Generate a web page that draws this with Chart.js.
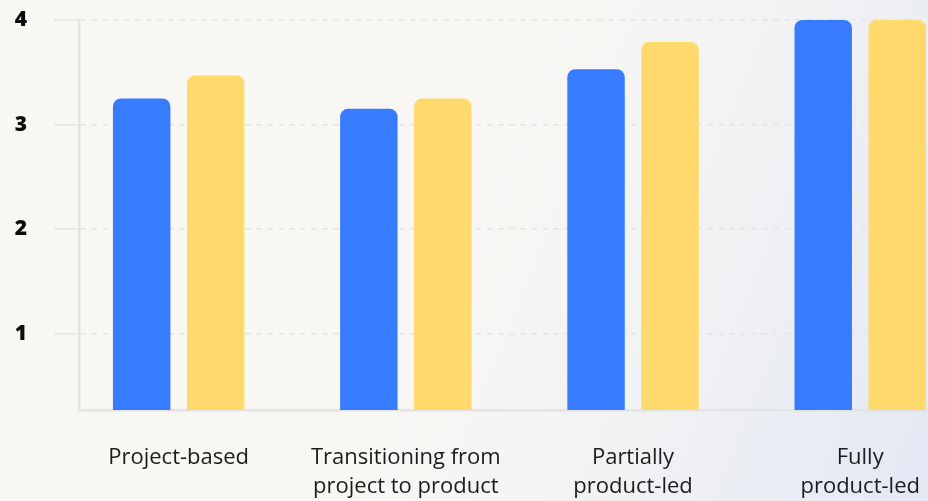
<!DOCTYPE html>
<html>
<head>
<meta charset="utf-8">
<script src="https://cdn.jsdelivr.net/npm/chart.js@4/dist/chart.umd.min.js"></script>
<style>
  html, body { margin: 0; padding: 0; overflow: hidden; }
  body {
    width: 928px; height: 501px;
    background: linear-gradient(112deg, #f8f7f4 0%, #f8f7f4 50%, #f0f1f3 74%, #e2e8f5 100%);
  }
  #wrap { position: relative; width: 928px; height: 501px; }
</style>
</head>
<body>
<div id="wrap"><canvas id="chart"></canvas></div>
<script>
const categories = [
  ['Project-based'],
  ['Transitioning from', 'project to product'],
  ['Partially', 'product-led'],
  ['Fully', 'product-led']
]
const blueValues = [3.25, 3.15, 3.53, 4.0]
const yellowValues = [3.47, 3.25, 3.79, 4.0]
const yTicks = [1, 2, 3, 4]

const font = "'Open Sans', 'Noto Sans', sans-serif"
const lineGray = '#e3e3e3'

// bars sit on a linear x axis at 0..3, one group per category
const toPoints = vals => vals.map((v, i) => ({x: i, y: v}))

const barStyle = {
  borderRadius: 8,
  borderSkipped: 'start',
  categoryPercentage: 0.651,
  barPercentage: 0.777
}

new Chart(document.getElementById('chart'), {
  type: 'bar',
  data: {
    datasets: [
      {label: 'a', data: toPoints(blueValues), backgroundColor: '#377bff', ...barStyle},
      {label: 'b', data: toPoints(yellowValues), backgroundColor: '#ffd96b', ...barStyle}
    ]
  },
  options: {
    responsive: true,
    maintainAspectRatio: false,
    animation: false,
    layout: {padding: {top: 20, right: 1, left: 0, bottom: 0}},
    plugins: {legend: {display: false}, tooltip: {enabled: false}},
    scales: {
      x: {
        type: 'linear',
        offset: false,
        bounds: 'data',
        min: -0.4386,
        max: 3.294,
        afterBuildTicks: s => { s.ticks = categories.map((c, i) => ({value: i})) },
        afterFit: s => { s.height = 91; s.paddingLeft = 0; s.paddingRight = 0 },
        grid: {display: true, offset: false, drawOnChartArea: false, drawTicks: false},
        border: {display: true, color: lineGray, width: 2.5},
        ticks: {
          autoSkip: false,
          maxRotation: 0,
          padding: 33,
          color: '#1c1c1c',
          font: {family: font, size: 22, lineHeight: '29px'},
          callback: v => categories[v]
        }
      },
      y: {
        type: 'linear',
        bounds: 'data',
        min: 0.27,
        max: 4,
        afterBuildTicks: s => { s.ticks = yTicks.map(v => ({value: v})) },
        afterFit: s => { s.width = 79; s.paddingTop = 0; s.paddingBottom = 0 },
        grid: {
          color: lineGray,
          lineWidth: 1.5,
          tickLength: 25,
          tickColor: lineGray,
          tickWidth: 1.5,
          tickBorderDash: []
        },
        border: {display: true, color: lineGray, width: 2.5, dash: [5, 6]},
        ticks: {
          padding: 27,
          color: '#0d0d0d',
          font: {family: font, size: 21, weight: 800}
        }
      }
    }
  }
})
</script>
</body>
</html>
